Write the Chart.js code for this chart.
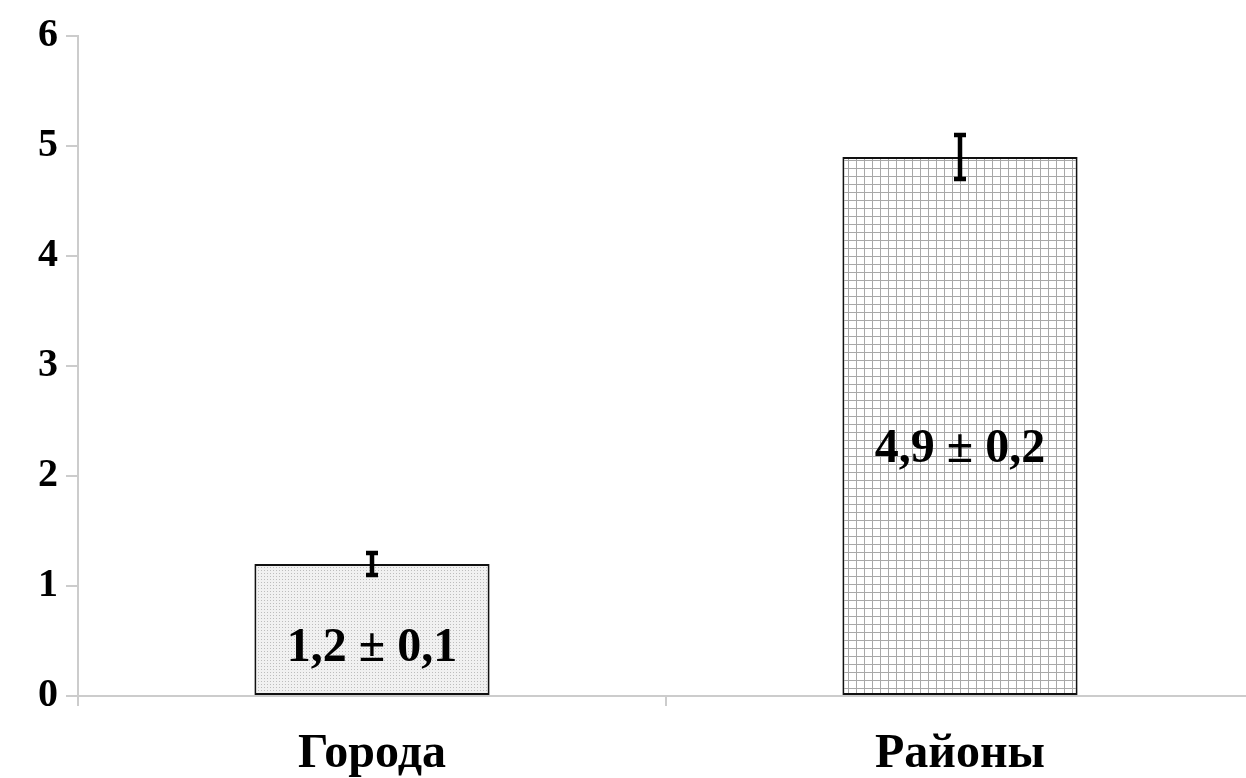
<!DOCTYPE html>
<html>
<head>
<meta charset="utf-8">
<script src="https://cdn.jsdelivr.net/npm/chart.js@4/dist/chart.umd.min.js"></script>
<style>
  html, body { margin: 0; padding: 0; background: #fff; overflow: hidden; }
  #wrap { width: 1254px; height: 778px; }
</style>
</head>
<body>
<div id="wrap"><canvas id="barChart" width="1254" height="778"></canvas></div>
<script>
// data
const categories = ['Города', 'Районы'];
const means = [1.2, 4.9];
const errors = [0.1, 0.2];
const valueLabels = ['1,2 ± 0,1', '4,9 ± 0,2'];
const yTicks = [0, 1, 2, 3, 4, 5, 6];

const serif = '"Liberation Serif", "Times New Roman", serif';

// fill textures for the two bars
function dotPattern() {
    const c = document.createElement('canvas');
    c.width = 3; c.height = 3;
    const g = c.getContext('2d');
    g.fillStyle = '#f1f1f1';
    g.fillRect(0, 0, 3, 3);
    g.fillStyle = '#bdbdbd';
    g.fillRect(0, 0, 1, 1);
    return g.createPattern(c, 'repeat');
}

function gridPattern() {
    const c = document.createElement('canvas');
    c.width = 8; c.height = 8;
    const g = c.getContext('2d');
    g.fillStyle = '#ffffff';
    g.fillRect(0, 0, 8, 8);
    g.fillStyle = '#a8a8a8';
    g.fillRect(0, 0, 8, 1);
    g.fillRect(0, 0, 1, 8);
    return g.createPattern(c, 'repeat');
}

// error bars + value text inside bars
const errorBars = {
    id: 'errorBars',
    afterDatasetsDraw(chart) {
        const ctx = chart.ctx;
        const y = chart.scales.y;
        const meta = chart.getDatasetMeta(0);
        meta.data.forEach((bar, i) => {
            const top = y.getPixelForValue(means[i] + errors[i]);
            const bot = y.getPixelForValue(means[i] - errors[i]);
            ctx.save();
            ctx.strokeStyle = '#000';
            ctx.lineWidth = 4.5;
            ctx.beginPath();
            ctx.moveTo(bar.x, top);
            ctx.lineTo(bar.x, bot);
            ctx.moveTo(bar.x - 6, top);
            ctx.lineTo(bar.x + 6, top);
            ctx.moveTo(bar.x - 6, bot);
            ctx.lineTo(bar.x + 6, bot);
            ctx.stroke();
            ctx.restore();
        });
        // value labels
        const textAt = [0.43, 2.24];
        ctx.save();
        ctx.fillStyle = '#000';
        ctx.font = 'bold 48px ' + serif;
        ctx.textAlign = 'center';
        ctx.textBaseline = 'middle';
        meta.data.forEach((bar, i) => {
            ctx.fillText(valueLabels[i], bar.x, y.getPixelForValue(textAt[i]));
        });
        ctx.restore();
    }
};

const ctx = document.getElementById('barChart').getContext('2d');
new Chart(ctx, {
    type: 'bar',
    data: {
        labels: categories,
        datasets: [{
            data: means,
            backgroundColor: [dotPattern(), gridPattern()],
            borderColor: '#111',
            borderWidth: 2,
            borderSkipped: false,
            categoryPercentage: 0.4,
            barPercentage: 1.0
        }]
    },
    options: {
        responsive: false,
        animation: false,
        layout: { padding: { top: 36, right: 0, left: 0, bottom: 0 } },
        plugins: {
            legend: { display: false },
            tooltip: { enabled: false }
        },
        scales: {
            x: {
                grid: {
                    offset: true,
                    drawOnChartArea: false,
                    color: '#cccccc',
                    tickLength: 10,
                    lineWidth: 2
                },
                border: { color: '#cccccc', width: 2 },
                ticks: {
                    color: '#000',
                    padding: 20,
                    font: { family: serif, size: 48, weight: 'bold' }
                },
                afterFit: (scale) => { scale.height = 82; }
            },
            y: {
                min: 0,
                max: 6,
                afterBuildTicks: (scale) => { scale.ticks = yTicks.map(v => ({ value: v })); },
                grid: {
                    drawOnChartArea: false,
                    color: '#cccccc',
                    tickLength: 12,
                    lineWidth: 2
                },
                border: { color: '#cccccc', width: 2 },
                ticks: {
                    color: '#000',
                    padding: 8,
                    font: { family: serif, size: 40, weight: 'bold' }
                },
                afterFit: (scale) => { scale.width = 78; }
            }
        }
    },
    plugins: [errorBars]
});
</script>
</body>
</html>
